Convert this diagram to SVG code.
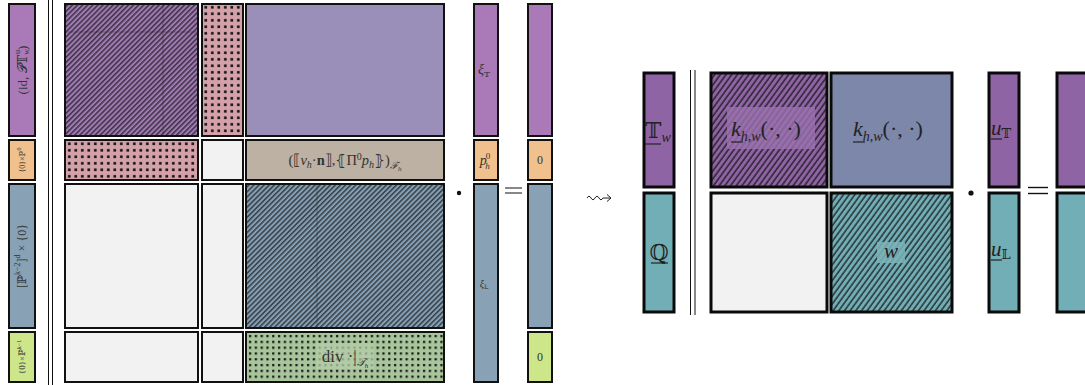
<svg xmlns="http://www.w3.org/2000/svg" width="1085" height="385" viewBox="0 0 1085 385">
<defs>
<pattern id="hatchL" width="3.6" height="3.6" patternUnits="userSpaceOnUse" patternTransform="rotate(45)">
<line x1="0.8" y1="0" x2="0.8" y2="3.6" stroke="#111" stroke-width="1.05"/>
</pattern>
<pattern id="hatchR" width="4.6" height="4.6" patternUnits="userSpaceOnUse" patternTransform="rotate(36)">
<line x1="1" y1="0" x2="1" y2="4.6" stroke="#111" stroke-width="1.2"/>
</pattern>
<pattern id="dots" width="6.5" height="6.5" patternUnits="userSpaceOnUse" x="66" y="4">
<rect x="2" y="2" width="2.6" height="2.6" fill="#111"/>
</pattern>
<pattern id="dotsG" width="5.8" height="5.8" patternUnits="userSpaceOnUse" x="247" y="333">
<rect x="2" y="2" width="2.2" height="2.2" fill="#111"/>
</pattern>
</defs>
<style>
.b{stroke:#111;stroke-width:2}
.B{stroke:#0a0a0a;stroke-width:3}
.e{fill:#f2f2f2}
.t{font-family:"Liberation Serif","DejaVu Serif",serif;fill:#333}
.tr{font-family:"Liberation Serif","DejaVu Serif",serif;fill:#222}
.dl{stroke:#111;stroke-width:1}
</style>
<rect width="1085" height="385" fill="#fff"/>

<!-- LEFT SIDE -->
<g id="left-vector">
<rect class="b" x="9" y="4" width="26" height="132" fill="#aa7ab8"/>
<rect class="b" x="9" y="140" width="26" height="40" fill="#f0c18c"/>
<rect class="b" x="9" y="184" width="26" height="144" fill="#88a1b5"/>
<rect class="b" x="9" y="332" width="26" height="50" fill="#cde68a"/>
<text class="t" font-size="13" text-anchor="middle" dominant-baseline="central" transform="translate(22,70) rotate(-90)">(id, 𝒫𝕋<tspan font-size="8" dy="4">w</tspan><tspan font-size="8" dx="-5" dy="-9">u</tspan><tspan dy="5">)</tspan></text>
<text class="t" font-size="8" text-anchor="middle" dominant-baseline="central" transform="translate(22,160) rotate(-90)">{0}×ℙ<tspan font-size="6" dy="-3">0</tspan></text>
<text class="t" font-size="12" text-anchor="middle" dominant-baseline="central" transform="translate(22,256) rotate(-90)">[ℙ<tspan font-size="8" dy="-5">k−2</tspan><tspan dy="5">]</tspan><tspan font-size="8" dy="-5">d</tspan><tspan dy="5"> × {0}</tspan></text>
<text class="t" font-size="9" text-anchor="middle" dominant-baseline="central" transform="translate(22,357) rotate(-90)">{0}×ℙ<tspan font-size="6" dy="-3">k−1</tspan></text>
</g>

<g id="left-bars">
<line class="dl" x1="48.5" y1="0" x2="48.5" y2="385"/>
<line class="dl" x1="52.5" y1="0" x2="52.5" y2="385"/>
</g>

<g id="m11">
<rect x="65" y="4" width="133" height="132" fill="#a07ab3"/>
<rect x="65" y="4" width="133" height="132" fill="url(#hatchL)"/>
<line x1="65" y1="32" x2="198" y2="32" stroke="#222" stroke-width="0.6" opacity="0.6"/>
<line x1="163" y1="4" x2="163" y2="136" stroke="#222" stroke-width="0.6" opacity="0.6"/>
<rect class="b" x="65" y="4" width="133" height="132" fill="none"/>
</g>
<g id="m12">
<rect class="b" x="202" y="4" width="41" height="132" fill="#d4a1a9"/>
<rect x="202" y="4" width="41" height="132" fill="url(#dots)"/>
<rect class="b" x="202" y="4" width="41" height="132" fill="none"/>
</g>
<g id="m13">
<rect class="b" x="246" y="4" width="198" height="132" fill="#9a8fb8"/>
</g>
<g id="m21">
<rect x="65" y="140" width="133" height="40" fill="#d4a1a9"/>
<rect x="65" y="140" width="133" height="40" fill="url(#dots)"/>
<rect class="b" x="65" y="140" width="133" height="40" fill="none"/>
</g>
<g id="m22"><rect class="b e" x="202" y="140" width="41" height="40"/></g>
<g id="m23">
<rect class="b" x="246" y="140" width="198" height="40" fill="#bcb1a2"/>
<text class="t" x="345" y="165" font-size="14.5" text-anchor="middle">(⟦<tspan font-style="italic">v</tspan><tspan font-size="10" font-style="italic" dy="3">h</tspan><tspan dy="-3">·</tspan><tspan font-weight="bold">n</tspan>⟧,⦃Π<tspan font-size="10" dy="-5">0</tspan><tspan font-style="italic" dy="5">p</tspan><tspan font-size="10" font-style="italic" dy="3">h</tspan><tspan dy="-3">⦄)</tspan><tspan font-size="10" font-style="italic" dy="4">ℱ</tspan><tspan font-size="7" font-style="italic" dy="2">h</tspan></text>
</g>
<g id="m31"><rect class="b e" x="65" y="184" width="133" height="144"/></g>
<g id="m32"><rect class="b e" x="202" y="184" width="41" height="144"/></g>
<g id="m33">
<rect x="246" y="184" width="198" height="144" fill="#86a0b6"/>
<rect x="246" y="184" width="198" height="144" fill="url(#hatchL)"/>
<line x1="317" y1="184" x2="317" y2="328" stroke="#222" stroke-width="0.6" opacity="0.6"/>
<rect class="b" x="246" y="184" width="198" height="144" fill="none"/>
</g>
<g id="m41"><rect class="b e" x="65" y="332" width="133" height="50"/></g>
<g id="m42"><rect class="b e" x="202" y="332" width="41" height="50"/></g>
<g id="m43">
<rect x="246" y="332" width="198" height="50" fill="#a9c59c"/>
<rect x="246" y="332" width="198" height="50" fill="url(#dotsG)"/>
<rect x="316" y="343" width="58" height="26" fill="#b4cda8" opacity="0.75"/>
<rect class="b" x="246" y="332" width="198" height="50" fill="none"/>
<text class="t" x="345" y="362" font-size="17" text-anchor="middle">div ·|<tspan font-size="11" font-style="italic" dy="4">𝒯</tspan><tspan font-size="7" font-style="italic" dy="2">h</tspan></text>
</g>

<g id="dot-left"><circle cx="459" cy="193" r="2.2" fill="#111"/></g>

<g id="xi-vector">
<rect class="b" x="474" y="4" width="24" height="132" fill="#aa7ab8"/>
<rect class="b" x="474" y="140" width="24" height="40" fill="#f0c18c"/>
<rect class="b" x="474" y="184" width="24" height="198" fill="#88a1b5"/>
<text class="t" x="484" y="74" font-size="14" font-style="italic" text-anchor="middle">ξ<tspan font-size="8" font-style="normal" dy="3">𝕋</tspan></text>
<text class="t" x="485" y="165" font-size="14" font-style="italic" text-anchor="middle">p<tspan font-size="9" dx="-1" dy="-6" font-style="normal">0</tspan><tspan font-size="9" dx="-5" dy="10">h</tspan></text>
<text class="t" x="484" y="287" font-size="10" font-style="italic" text-anchor="middle">ξ<tspan font-size="6" font-style="normal" dy="2">𝕃</tspan></text>
</g>

<g id="eq-left">
<line x1="505" y1="188" x2="522" y2="188" stroke="#111" stroke-width="1"/>
<line x1="505" y1="193" x2="522" y2="193" stroke="#111" stroke-width="1"/>
</g>

<g id="rhs-vector">
<rect class="b" x="528" y="4" width="24" height="132" fill="#aa7ab8"/>
<rect class="b" x="528" y="140" width="24" height="40" fill="#f0c18c"/>
<rect class="b" x="528" y="184" width="24" height="144" fill="#88a1b5"/>
<rect class="b" x="528" y="332" width="24" height="50" fill="#cde68a"/>
<text class="t" x="540" y="164" font-size="12" text-anchor="middle">0</text>
<text class="t" x="540" y="361" font-size="12" text-anchor="middle">0</text>
</g>

<g id="connectors">
<path d="M587,198 q2,-3.5 4,0 t4,0 t4,0 t4,0 L610.5,198" fill="none" stroke="#222" stroke-width="1"/>
<path d="M607,194.5 L611,198 L607,201.5" fill="none" stroke="#222" stroke-width="1"/>
</g>

<!-- RIGHT SIDE -->
<g id="r-vector">
<rect class="B" x="644" y="73" width="30" height="114" fill="#8f64a5"/>
<rect class="B" x="644" y="193" width="30" height="119" fill="#72aeb5"/>
<text class="tr" x="645" y="138" font-size="22">𝕋<tspan font-size="14" font-style="italic" dy="4">w</tspan></text>
<line x1="645" y1="144" x2="661" y2="144" stroke="#222" stroke-width="1.2"/>
<text class="tr" x="659" y="260" font-size="22" text-anchor="middle">ℚ</text>
<line x1="651" y1="263" x2="668" y2="263" stroke="#222" stroke-width="1.2"/>
</g>

<g id="r-bars">
<line class="dl" x1="690.5" y1="70" x2="690.5" y2="315"/>
<line class="dl" x1="695" y1="70" x2="695" y2="315"/>
</g>

<g id="k11">
<rect x="711" y="73" width="116" height="114" fill="#8f64a5"/>
<rect x="711" y="73" width="116" height="114" fill="url(#hatchR)"/>
<rect x="727" y="107" width="88" height="42" fill="#9a72ae" opacity="0.8"/>
<rect class="B" x="711" y="73" width="116" height="114" fill="none"/>
<text class="tr" x="731" y="136" font-size="22" font-style="italic">k<tspan font-size="14" dy="5">h,w</tspan><tspan font-style="normal" dy="-5">(·, ·)</tspan></text>
<line x1="731" y1="142" x2="743" y2="142" stroke="#222" stroke-width="1.2"/>
</g>
<g id="k12">
<rect class="B" x="831" y="73" width="121" height="114" fill="#7d87aa"/>
<text class="tr" x="853" y="136" font-size="22" font-style="italic">k<tspan font-size="14" dy="5">h,w</tspan><tspan font-style="normal" dy="-5">(·, ·)</tspan></text>
<line x1="853" y1="142" x2="865" y2="142" stroke="#222" stroke-width="1.2"/>
</g>
<g id="k21"><rect class="B e" x="711" y="193" width="116" height="119"/></g>
<g id="k22">
<rect x="831" y="193" width="121" height="119" fill="#72aeb5"/>
<rect x="831" y="193" width="121" height="119" fill="url(#hatchR)"/>
<rect x="877" y="242" width="28" height="21" fill="#7ab4ba" opacity="0.85"/>
<rect class="B" x="831" y="193" width="121" height="119" fill="none"/>
<text class="tr" x="891" y="258" font-size="21" font-style="italic" text-anchor="middle">w</text>
</g>

<g id="dot-right"><circle cx="971" cy="193" r="2.6" fill="#111"/></g>

<g id="u-vector">
<rect class="B" x="989" y="73" width="30" height="114" fill="#8f64a5"/>
<rect class="B" x="989" y="193" width="30" height="119" fill="#72aeb5"/>
<text class="tr" x="991" y="135" font-size="21" font-style="italic">u<tspan font-size="13" font-style="normal" dy="3">𝕋</tspan></text>
<line x1="991" y1="139" x2="1002" y2="139" stroke="#222" stroke-width="1.2"/>
<text class="tr" x="991" y="256" font-size="21" font-style="italic">u<tspan font-size="13" font-style="normal" dy="3">𝕃</tspan></text>
<line x1="991" y1="260" x2="1002" y2="260" stroke="#222" stroke-width="1.2"/>
</g>

<g id="eq-right">
<line x1="1028" y1="187.5" x2="1048" y2="187.5" stroke="#111" stroke-width="1.4"/>
<line x1="1028" y1="193.5" x2="1048" y2="193.5" stroke="#111" stroke-width="1.4"/>
</g>

<g id="r-rhs">
<rect class="B" x="1057" y="73" width="34" height="114" fill="#8f64a5"/>
<rect class="B" x="1057" y="193" width="34" height="119" fill="#72aeb5"/>
</g>
</svg>
